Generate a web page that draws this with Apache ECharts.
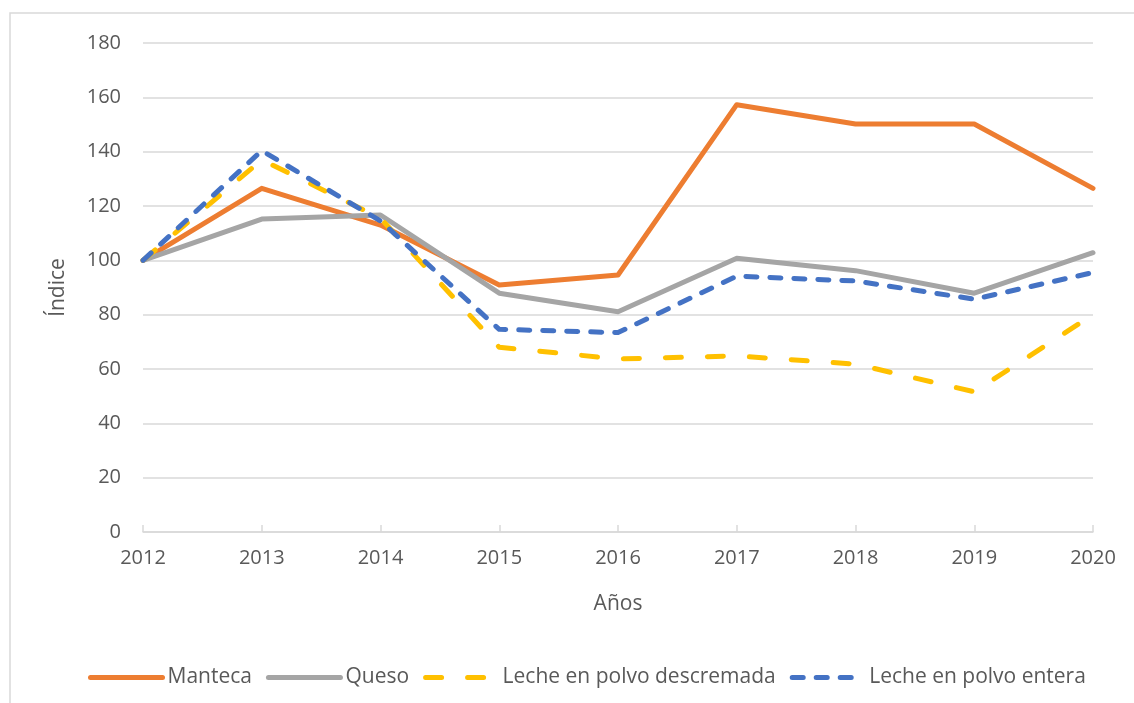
<!DOCTYPE html>
<html>
<head>
<meta charset="utf-8">
<script src="https://cdn.jsdelivr.net/npm/echarts@6/dist/echarts.min.js"></script>
<style>
  html, body { margin: 0; padding: 0; background: #fff; }
  #chart { width: 1134px; height: 703px; }
</style>
</head>
<body>
<div id="chart"></div>
<script>
var years = ['2012', '2013', '2014', '2015', '2016', '2017', '2018', '2019', '2020'];
var manteca = [100, 126.5, 113, 90.9, 94.6, 157.3, 150.2, 150.2, 126.5];
var queso = [100, 115.2, 116.7, 87.9, 81.1, 100.8, 96.2, 87.9, 102.8];
var lecheDescremada = [100, 137, 115.5, 68, 63.7, 64.8, 61.8, 51.6, 80];
var lecheEntera = [100, 140.4, 114.5, 74.6, 73.4, 94.2, 92.4, 85.7, 95.5];

var font = 'Open Sans';
var txt = '#595959';

function line(name, data, color, dash) {
    return {
        name: name,
        type: 'line',
        data: data,
        symbol: 'none',
        lineStyle: { color: color, width: 5, type: dash || 'solid', cap: 'round', join: 'round' },
        itemStyle: { color: color }
    };
}

var chart = echarts.init(document.getElementById('chart'));
chart.setOption({
    animation: false,
    textStyle: { fontFamily: font },
    graphic: [{
        type: 'rect',
        shape: { x: 10, y: 13, width: 1140, height: 720 },
        style: { fill: 'none', stroke: '#d9d9d9', lineWidth: 1.5 },
        silent: true
    }],
    grid: { left: 143, right: 41, top: 43, bottom: 171 },
    legend: {
        bottom: 10,
        left: 83,
        itemWidth: 72,
        itemHeight: 14,
        itemGap: 14,
        itemStyle: { opacity: 0 },
        lineStyle: { width: 5, cap: 'round' },
        textStyle: { color: txt, fontSize: 21, fontFamily: font },
        data: ['Manteca', 'Queso', 'Leche en polvo descremada', 'Leche en polvo entera']
    },
    xAxis: {
        type: 'category',
        data: years,
        boundaryGap: false,
        name: 'Años',
        nameLocation: 'middle',
        nameGap: 62,
        nameTextStyle: { color: txt, fontSize: 21, fontFamily: font },
        axisLine: { lineStyle: { color: '#d9d9d9', width: 1.5 } },
        axisTick: { inside: true, length: 7, lineStyle: { color: '#d9d9d9', width: 1.5 } },
        axisLabel: { color: txt, fontSize: 20, margin: 16, fontFamily: font }
    },
    yAxis: {
        type: 'value',
        min: 0,
        max: 180,
        interval: 20,
        name: 'Índice',
        nameLocation: 'middle',
        nameGap: 74,
        nameTextStyle: { color: txt, fontSize: 21, fontFamily: font },
        axisLine: { show: false },
        axisTick: { show: false },
        axisLabel: { color: txt, fontSize: 20, margin: 22, fontFamily: font },
        splitLine: { lineStyle: { color: '#d9d9d9', width: 1.5 } }
    },
    series: [
        line('Manteca', manteca, '#ed7d31'),
        line('Queso', queso, '#a5a5a5'),
        line('Leche en polvo descremada', lecheDescremada, '#ffc000', [16, 26]),
        line('Leche en polvo entera', lecheEntera, '#4472c4', [11, 13])
    ]
});
</script>
</body>
</html>
